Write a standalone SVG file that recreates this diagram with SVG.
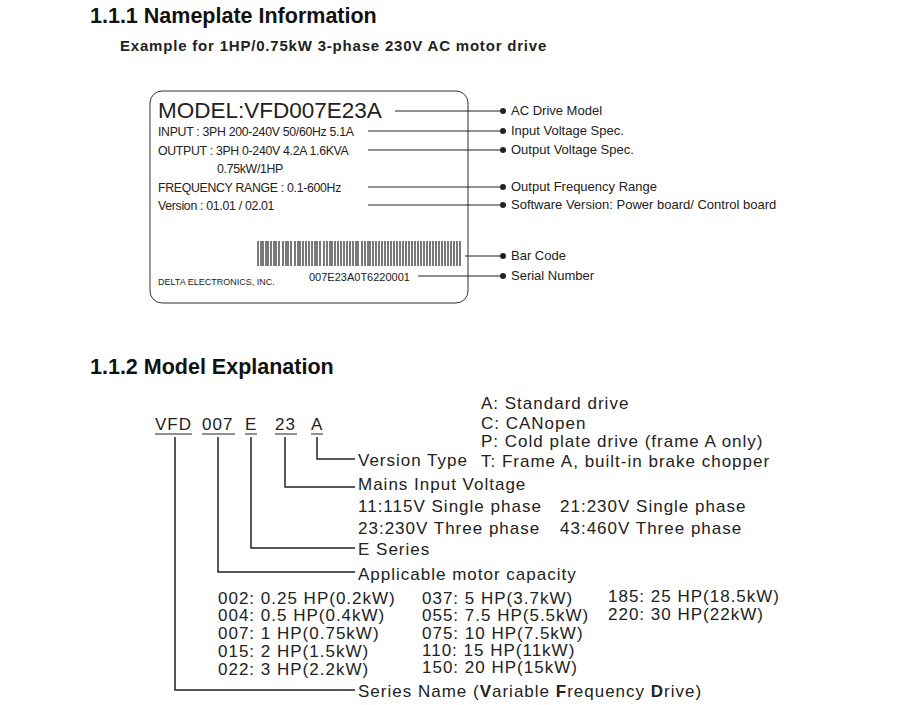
<svg xmlns="http://www.w3.org/2000/svg" width="905" height="705" viewBox="0 0 905 705">
<style>
text{font-family:"Liberation Sans",Arial,sans-serif;fill:#222}
.h{font-weight:bold;font-size:21.5px;fill:#111}
.np{font-size:12.3px;letter-spacing:-0.3px}
.lb{font-size:13px}
.m{font-size:17px;letter-spacing:1px}
.ln{stroke:#222;stroke-width:1;fill:none}
.cn{stroke:#222;stroke-width:1.5;fill:none}
</style>
<rect width="905" height="705" fill="#fff"/>
<text class="h" x="90" y="23">1.1.1 Nameplate Information</text>
<text x="120" y="51" style="font-weight:bold;font-size:15px;letter-spacing:0.8px">Example for 1HP/0.75kW 3-phase 230V AC motor drive</text>
<g id="nameplate">
<rect x="150" y="91" width="318" height="212" rx="12" fill="none" stroke="#333" stroke-width="1"/>
<text x="158" y="118" style="font-size:22.5px">MODEL:VFD007E23A</text>
<text class="np" x="158" y="136">INPUT : 3PH 200-240V 50/60Hz 5.1A</text>
<text class="np" x="158" y="155">OUTPUT : 3PH 0-240V 4.2A 1.6KVA</text>
<text class="np" x="217" y="173">0.75kW/1HP</text>
<text class="np" x="158" y="192">FREQUENCY RANGE : 0.1-600Hz</text>
<text class="np" x="158" y="210">Version : 01.01 / 02.01</text>
<path d="M258 241v25M261 241v25M263 241v25M266 241v25M268 241v25M271 241v25M274 241v25M276 241v25M279 241v25M283 241v25M286 241v25M288 241v25M291 241v25M295 241v25M298 241v25M300 241v25M303 241v25M306 241v25M309 241v25M312 241v25M315 241v25M317 241v25M320 241v25M324 241v25M327 241v25M330 241v25M332 241v25M335 241v25M338 241v25M341 241v25M344 241v25M347 241v25M350 241v25M353 241v25M356 241v25M358 241v25M362 241v25M365 241v25M368 241v25M370 241v25M373 241v25M376 241v25M379 241v25M382 241v25M385 241v25M388 241v25M391 241v25M394 241v25M397 241v25M400 241v25M403 241v25M406 241v25M409 241v25M412 241v25M415 241v25M418 241v25M421 241v25M424 241v25M427 241v25M430 241v25M433 241v25M436 241v25M439 241v25M442 241v25M445 241v25M448 241v25M451 241v25M454 241v25M457 241v25M460 241v25" stroke="#222" stroke-width="1.2"/>
<text x="309" y="281" style="font-size:11px">007E23A0T6220001</text>
<text x="158" y="285" style="font-size:9px">DELTA ELECTRONICS, INC.</text>
</g>
<g id="np-connectors">
<path class="ln" d="M395 111H503M368 131H503M368 150H503M368 187H503M368 205H503M465 256H503M418 276H503"/>
<g fill="#222"><circle cx="503" cy="111" r="3"/><circle cx="503" cy="131" r="3"/><circle cx="503" cy="150" r="3"/><circle cx="503" cy="187" r="3"/><circle cx="503" cy="205" r="3"/><circle cx="503" cy="256" r="3"/><circle cx="503" cy="276" r="3"/></g>
</g>
<g id="np-labels">
<text class="lb" x="511" y="115">AC Drive Model</text>
<text class="lb" x="511" y="135">Input Voltage Spec.</text>
<text class="lb" x="511" y="154">Output Voltage Spec.</text>
<text class="lb" x="511" y="191">Output Frequency Range</text>
<text class="lb" x="511" y="209">Software Version: Power board/ Control board</text>
<text class="lb" x="511" y="260">Bar Code</text>
<text class="lb" x="511" y="280">Serial Number</text>
</g>
<text class="h" x="90" y="374">1.1.2 Model Explanation</text>
<g id="code">
<text class="m" x="155" y="430">VFD</text>
<text class="m" x="202" y="430">007</text>
<text class="m" x="245" y="430">E</text>
<text class="m" x="275" y="430">23</text>
<text class="m" x="311" y="430">A</text>
<path class="ln" d="M155 434H192M202 434H235M245 434H257M275 434H297M311 434H323"/>
</g>
<g id="model-connectors">
<path class="cn" d="M175 437V690H355"/>
<path class="cn" d="M218 437V572H355"/>
<path class="cn" d="M251 437V548H355" stroke-width="2.5"/>
<path class="cn" d="M285 437V487H355" stroke-width="1"/>
<path class="cn" d="M317 437V459H355"/>
</g>
<g id="version">
<text class="m" x="358" y="466">Version Type</text>
<text class="m" x="481" y="409">A: Standard drive</text>
<text class="m" x="481" y="429">C: CANopen</text>
<text class="m" x="481" y="447">P: Cold plate drive (frame A only)</text>
<text class="m" x="481" y="467">T: Frame A, built-in brake chopper</text>
</g>
<g id="voltage">
<text class="m" x="358" y="490">Mains Input Voltage</text>
<text class="m" x="358" y="512">11:115V Single phase</text>
<text class="m" x="560" y="512">21:230V Single phase</text>
<text class="m" x="358" y="534">23:230V Three phase</text>
<text class="m" x="560" y="534">43:460V Three phase</text>
</g>
<g id="series"><text class="m" x="358" y="555">E Series</text></g>
<g id="capacity">
<text class="m" x="358" y="580">Applicable motor capacity</text>
<text class="m" x="218" y="604">002: 0.25 HP(0.2kW)</text>
<text class="m" x="218" y="621">004: 0.5 HP(0.4kW)</text>
<text class="m" x="218" y="639">007: 1 HP(0.75kW)</text>
<text class="m" x="218" y="657">015: 2 HP(1.5kW)</text>
<text class="m" x="218" y="675">022: 3 HP(2.2kW)</text>
<text class="m" x="422" y="604">037: 5 HP(3.7kW)</text>
<text class="m" x="422" y="621">055: 7.5 HP(5.5kW)</text>
<text class="m" x="422" y="639">075: 10 HP(7.5kW)</text>
<text class="m" x="422" y="656">110: 15 HP(11kW)</text>
<text class="m" x="422" y="673">150: 20 HP(15kW)</text>
<text class="m" x="608" y="602">185: 25 HP(18.5kW)</text>
<text class="m" x="608" y="620">220: 30 HP(22kW)</text>
</g>
<g id="name"><text class="m" x="358" y="697">Series Name (<tspan font-weight="bold">V</tspan>ariable <tspan font-weight="bold">F</tspan>requency <tspan font-weight="bold">D</tspan>rive)</text></g>
</svg>
